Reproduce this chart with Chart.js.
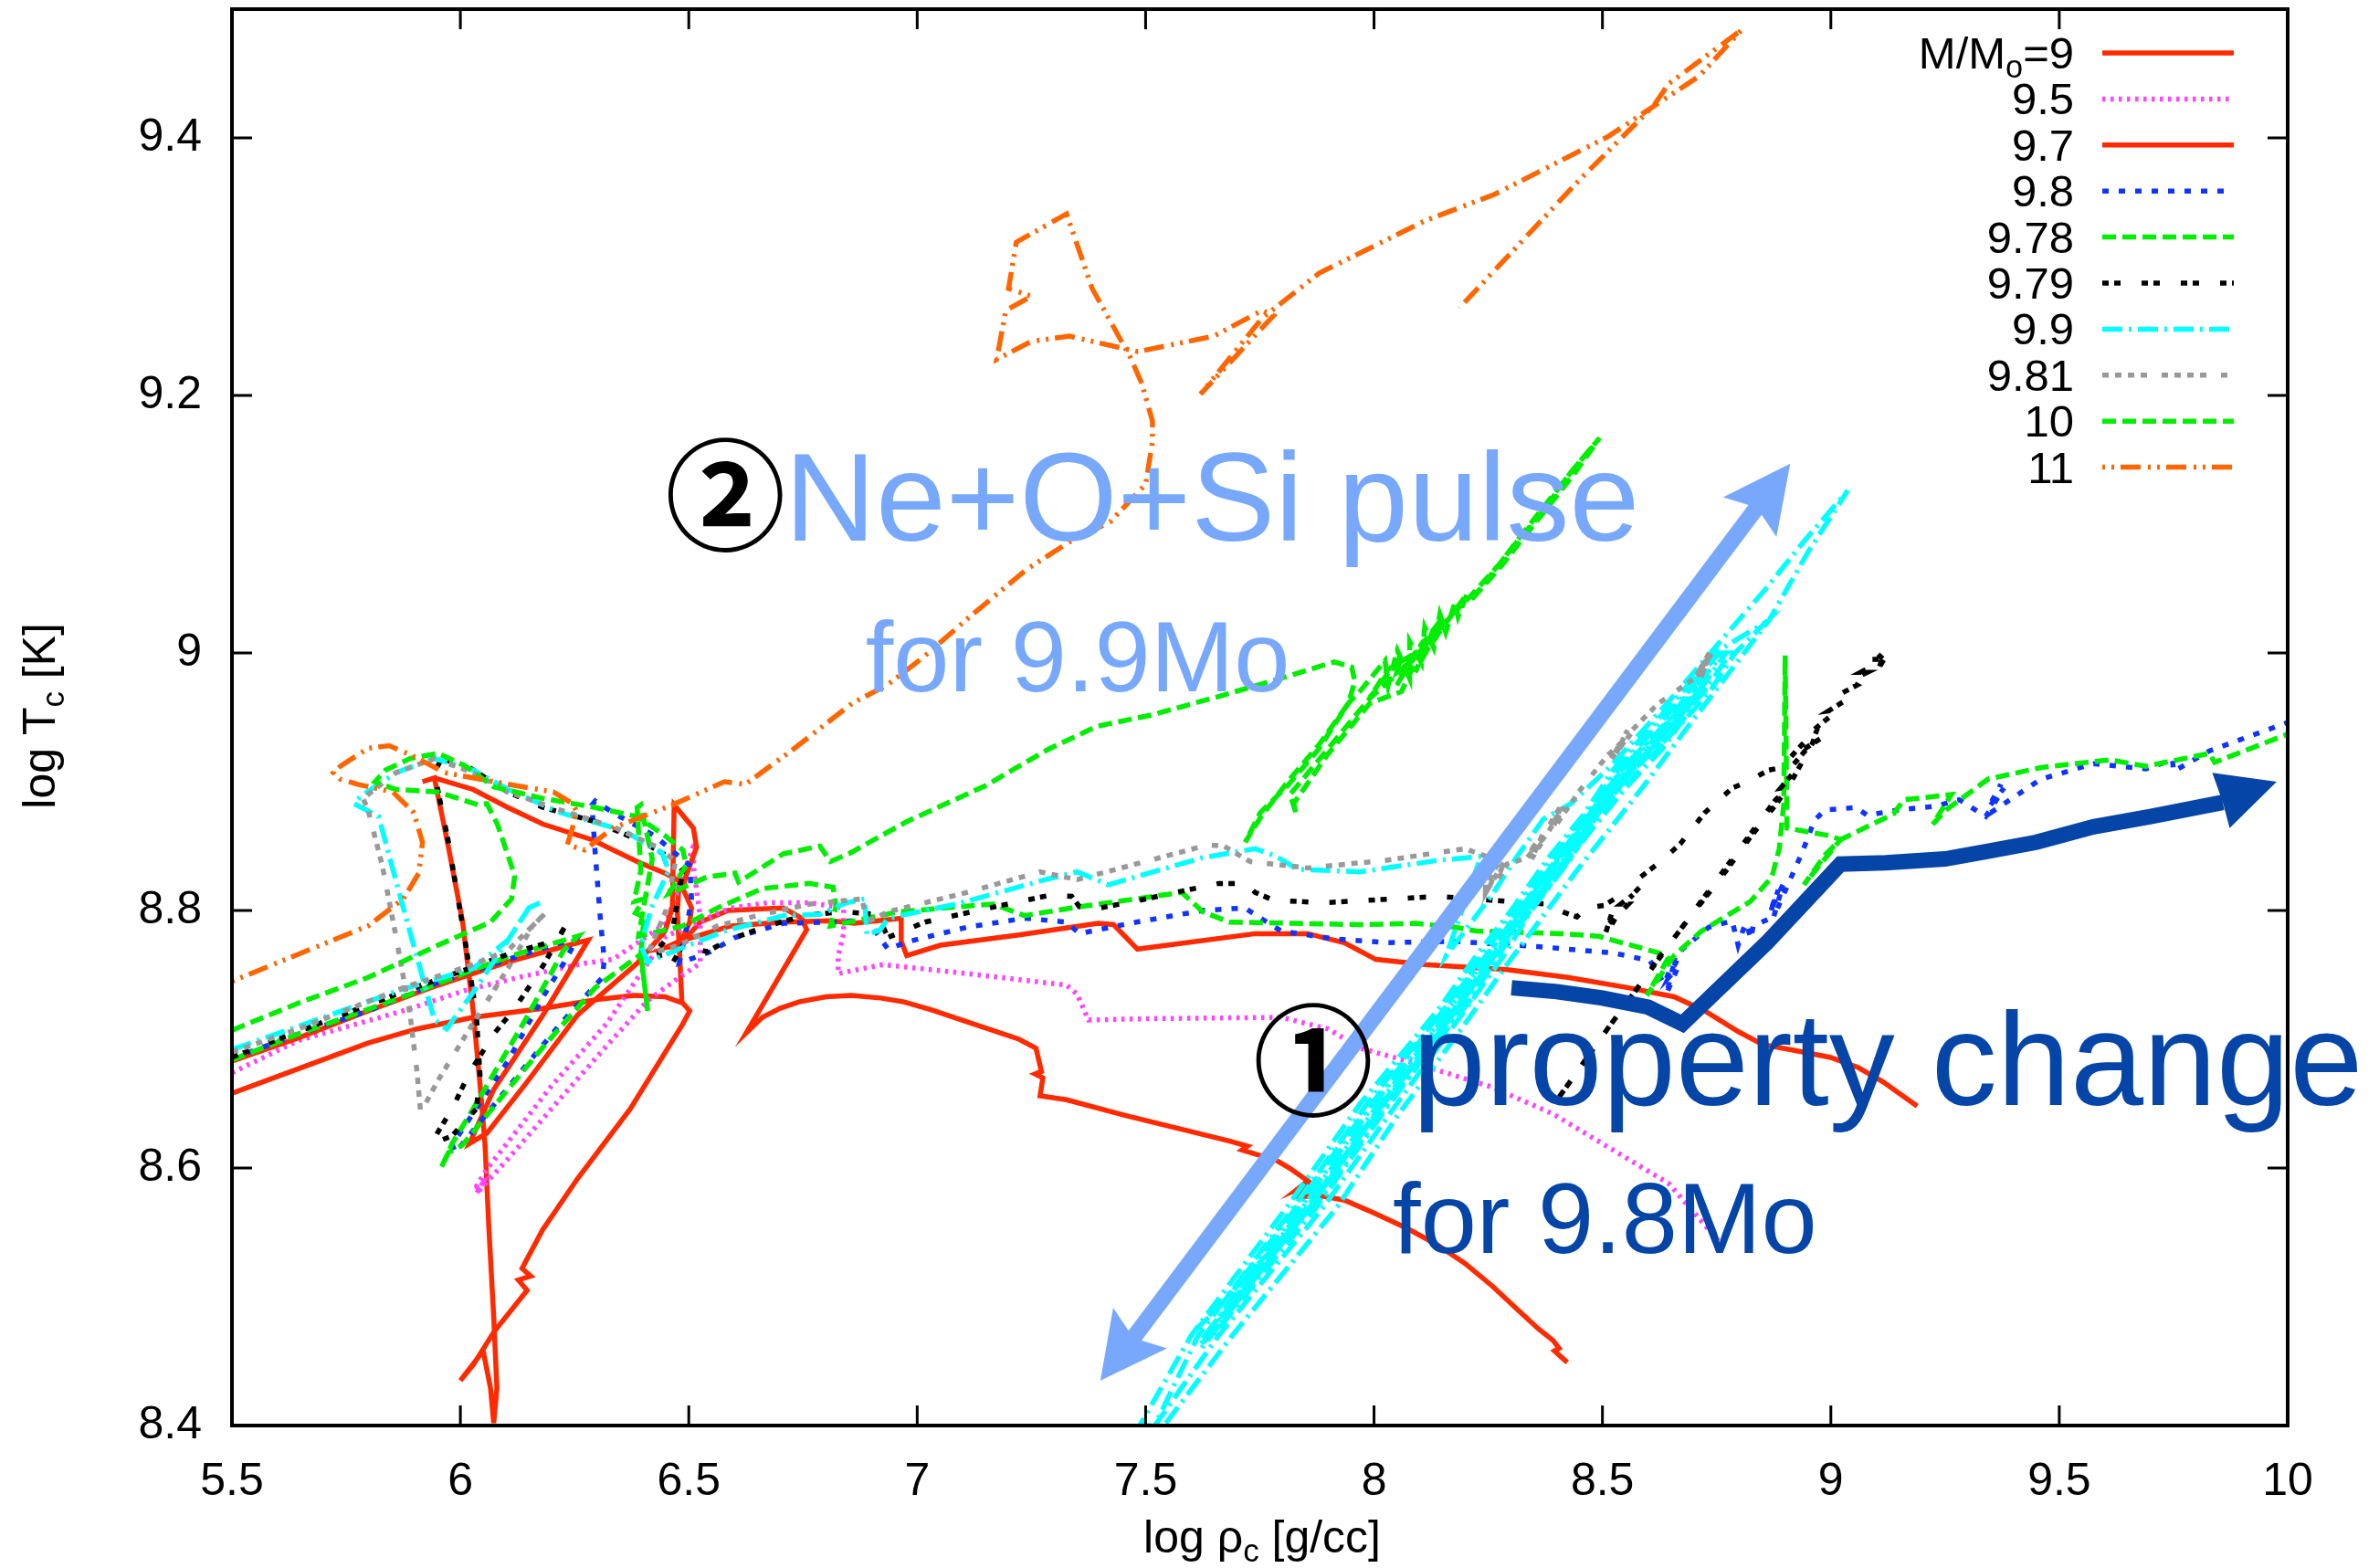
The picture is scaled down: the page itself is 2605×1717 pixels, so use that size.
<!DOCTYPE html>
<html>
<head>
<meta charset="utf-8">
<script src="https://cdn.jsdelivr.net/npm/chart.js@4/dist/chart.umd.min.js"></script>
<style>
body { margin: 0; background: #fff; }
canvas { display: block; }
</style>
</head>
<body>
<canvas id="tracks" width="2605" height="1717"></canvas>
<script>
const xTicks = [5.5, 6, 6.5, 7, 7.5, 8, 8.5, 9, 9.5, 10];
const xTickLabels = ['5.5', '6', '6.5', '7', '7.5', '8', '8.5', '9', '9.5', '10'];
const yTicks = [8.4, 8.6, 8.8, 9, 9.2, 9.4];
const yTickLabels = ['8.4', '8.6', '8.8', '9', '9.2', '9.4'];

const legendLabels = ['9', '9.5', '9.7', '9.8', '9.78', '9.79', '9.9', '9.81', '10', '11'];

// each track is [log rho_c, log T_c]
const m9 = [[5.5,8.658],[5.645,8.677],[5.798,8.697],[5.905,8.708],[6.028,8.717],[6.18,8.724],[6.303,8.731],[6.38,8.734],[6.448,8.733],[6.487,8.728],[6.502,8.722],[6.487,8.712],[6.372,8.646],[6.257,8.592],[6.18,8.552],[6.135,8.522],[6.154,8.516],[6.127,8.513],[6.146,8.505],[6.074,8.473],[6.028,8.447],[6,8.435],[6.05,8.458],[6.066,8.429],[6.073,8.402],[6.08,8.429],[6.073,8.484],[6.062,8.556],[6.054,8.618],[6.043,8.665],[6.028,8.722],[6.005,8.791],[5.974,8.849],[5.943,8.903],[5.917,8.9],[5.943,8.903],[6.028,8.894],[6.104,8.88],[6.181,8.867],[6.288,8.855],[6.387,8.838],[6.448,8.829],[6.479,8.823],[6.475,8.798],[6.479,8.773],[6.485,8.728],[6.479,8.773],[6.525,8.791],[6.586,8.8],[6.649,8.801],[6.707,8.802],[6.747,8.794],[6.758,8.785],[6.626,8.705],[6.661,8.717],[6.7,8.724],[6.741,8.729],[6.8,8.733],[6.856,8.734],[6.92,8.732],[6.971,8.729],[7.03,8.723],[7.097,8.715],[7.223,8.7],[7.26,8.693],[7.272,8.675],[7.258,8.673],[7.275,8.67],[7.269,8.656],[7.327,8.653],[7.453,8.641],[7.683,8.621],[7.723,8.617],[7.711,8.614],[7.786,8.606],[7.815,8.6],[7.855,8.59],[7.83,8.583],[7.85,8.586],[7.835,8.578],[7.89,8.578],[7.935,8.575],[8,8.565],[8.073,8.553],[8.14,8.54],[8.199,8.526],[8.26,8.508],[8.314,8.49],[8.36,8.475],[8.392,8.466],[8.405,8.46],[8.395,8.458],[8.423,8.449]];
const m95 = [[5.5,8.674],[5.645,8.699],[5.874,8.722],[6.012,8.738],[6.127,8.748],[6.272,8.759],[6.334,8.762],[6.45,8.79],[6.513,8.853],[6.51,8.835],[6.525,8.795],[6.525,8.759],[6.471,8.746],[6.41,8.73],[6.318,8.694],[6.219,8.654],[6.104,8.607],[6.035,8.58],[6.048,8.588],[6.03,8.583],[6.058,8.599],[6.2,8.664],[6.32,8.712],[6.45,8.78],[6.592,8.802],[6.672,8.806],[6.764,8.806],[6.839,8.802],[6.839,8.782],[6.827,8.765],[6.827,8.751],[6.925,8.758],[7.109,8.751],[7.327,8.742],[7.35,8.735],[7.375,8.715],[7.51,8.716],[7.797,8.717],[7.9,8.708],[7.97,8.693],[8.084,8.682],[8.257,8.663],[8.392,8.642],[8.645,8.588],[8.76,8.541]];
const m97 = [[5.5,8.683],[5.645,8.701],[5.798,8.722],[5.951,8.742],[6.104,8.76],[6.257,8.775],[6.28,8.777],[6.181,8.719],[6.073,8.661],[6.02,8.619],[6.058,8.627],[6.142,8.665],[6.257,8.719],[6.387,8.759],[6.448,8.784],[6.464,8.802],[6.468,8.882],[6.51,8.864],[6.517,8.849],[6.494,8.827],[6.487,8.817],[6.506,8.802],[6.502,8.791],[6.479,8.773],[6.448,8.771],[6.479,8.776],[6.592,8.788],[6.707,8.791],[6.81,8.792],[6.862,8.79],[6.965,8.794],[6.965,8.776],[6.977,8.765],[7.051,8.773],[7.223,8.781],[7.396,8.79],[7.43,8.789],[7.482,8.77],[7.74,8.782],[7.855,8.782],[7.935,8.775],[8.004,8.762],[8.111,8.758],[8.291,8.754],[8.424,8.748],[8.557,8.74],[8.657,8.733],[8.724,8.722],[8.797,8.706],[8.85,8.696],[8.91,8.692],[8.998,8.686],[9.06,8.678],[9.114,8.667],[9.189,8.648]];
const m98 = [[5.5,8.685],[5.645,8.704],[5.798,8.722],[5.951,8.744],[6.104,8.762],[6.257,8.779],[6.226,8.759],[6.181,8.733],[6.104,8.683],[5.982,8.618],[5.989,8.612],[6.142,8.679],[6.219,8.712],[6.311,8.748],[6.315,8.762],[6.307,8.791],[6.295,8.845],[6.288,8.882],[6.295,8.885],[6.334,8.876],[6.425,8.858],[6.502,8.835],[6.506,8.809],[6.494,8.784],[6.479,8.759],[6.548,8.768],[6.601,8.779],[6.707,8.79],[6.822,8.791],[6.89,8.793],[6.936,8.77],[6.982,8.776],[7.109,8.787],[7.235,8.794],[7.327,8.791],[7.355,8.782],[7.465,8.79],[7.625,8.8],[7.717,8.802],[7.752,8.794],[7.797,8.784],[7.912,8.778],[8.027,8.775],[8.178,8.776],[8.358,8.772],[8.524,8.767],[8.604,8.761],[8.635,8.743],[8.66,8.764],[8.64,8.735],[8.664,8.755],[8.645,8.748],[8.675,8.77],[8.733,8.787],[8.784,8.792],[8.797,8.773],[8.808,8.785],[8.815,8.79],[8.825,8.778],[8.83,8.788],[8.862,8.793],[8.885,8.816],[8.868,8.8],[8.895,8.82],[8.875,8.795],[8.911,8.824],[8.937,8.845],[8.964,8.87],[8.987,8.878],[9.056,8.88],[9.079,8.874],[9.148,8.878],[9.229,8.881],[9.281,8.886],[9.339,8.873],[9.379,8.895],[9.345,8.88],[9.372,8.898],[9.35,8.876],[9.46,8.902],[9.575,8.914],[9.69,8.91],[9.748,8.917],[9.75,8.908],[9.829,8.924],[10,8.946]];
const m978 = [[5.5,8.684],[5.645,8.704],[5.875,8.733],[6.104,8.764],[6.257,8.78],[6.226,8.769],[6.142,8.715],[6.028,8.646],[5.982,8.619],[5.959,8.601],[5.974,8.612],[6.005,8.618],[6.104,8.661],[6.181,8.694],[6.295,8.74],[6.395,8.766],[6.41,8.722],[6.395,8.766],[6.402,8.795],[6.383,8.798],[6.402,8.809],[6.38,8.807],[6.395,8.831],[6.387,8.88],[6.395,8.882],[6.42,8.84],[6.39,8.78],[6.487,8.788],[6.563,8.802],[6.661,8.817],[6.764,8.821],[6.816,8.818],[6.822,8.803],[6.81,8.788],[6.959,8.799],[7.166,8.805],[7.235,8.796],[7.338,8.802],[7.579,8.814],[7.625,8.799],[7.683,8.791],[7.97,8.789],[8.091,8.79],[8.178,8.787],[8.224,8.784],[8.411,8.782],[8.491,8.78],[8.624,8.767],[8.644,8.763],[8.597,8.734],[8.657,8.765],[8.717,8.784],[8.824,8.807],[8.871,8.826],[8.887,8.848],[8.897,8.883],[8.9,8.998],[8.904,8.864],[8.951,8.861],[8.998,8.858],[9.021,8.855],[8.941,8.82],[8.987,8.843],[9.021,8.855],[9.137,8.875],[9.16,8.886],[9.264,8.89],[9.223,8.867],[9.252,8.878],[9.344,8.902],[9.46,8.911],[9.61,8.917],[9.69,8.912],[9.829,8.922],[9.84,8.915],[10,8.937]];
const m979 = [[5.5,8.686],[5.645,8.706],[5.875,8.737],[6.02,8.755],[6.104,8.766],[6.211,8.777],[6.23,8.788],[6.181,8.757],[6.119,8.724],[6.073,8.704],[6.02,8.674],[5.982,8.646],[5.951,8.628],[5.94,8.619],[5.982,8.625],[6.035,8.646],[6.043,8.672],[6.035,8.719],[6.012,8.773],[5.974,8.853],[5.943,8.907],[5.959,8.918],[6.02,8.911],[6.104,8.892],[6.181,8.88],[6.295,8.869],[6.395,8.854],[6.464,8.84],[6.487,8.831],[6.464,8.784],[6.433,8.77],[6.441,8.757],[6.464,8.759],[6.487,8.773],[6.54,8.768],[6.586,8.777],[6.672,8.788],[6.753,8.796],[6.833,8.799],[6.913,8.797],[6.936,8.779],[7.017,8.791],[7.132,8.8],[7.212,8.806],[7.292,8.812],[7.338,8.811],[7.355,8.803],[7.401,8.802],[7.487,8.808],[7.579,8.815],[7.66,8.821],[7.717,8.821],[7.74,8.814],[7.78,8.808],[7.89,8.806],[8.142,8.811],[8.257,8.808],[8.376,8.805],[8.404,8.8],[8.444,8.795],[8.464,8.802],[8.504,8.804],[8.531,8.81],[8.504,8.779],[8.53,8.795],[8.515,8.79],[8.557,8.805],[8.54,8.805],[8.575,8.815],[8.56,8.81],[8.597,8.824],[8.58,8.825],[8.631,8.839],[8.671,8.852],[8.724,8.876],[8.784,8.895],[8.817,8.9],[8.864,8.909],[8.891,8.911],[8.927,8.925],[8.971,8.942],[8.96,8.93],[8.907,8.896],[8.877,8.881],[8.824,8.857],[8.771,8.831],[8.664,8.782],[8.637,8.77],[8.617,8.76],[8.571,8.737],[8.511,8.708],[8.393,8.649],[8.511,8.708],[8.664,8.782],[8.877,8.885],[8.907,8.896],[8.89,8.895],[8.925,8.91],[8.91,8.91],[8.958,8.93],[8.94,8.925],[8.984,8.935],[8.958,8.939],[9.017,8.956],[8.995,8.955],[9.04,8.965],[9.02,8.968],[9.057,8.975],[9.04,8.978],[9.08,8.985],[9.065,8.985],[9.097,8.991],[9.085,8.995],[9.115,8.995],[9.1,9],[9.124,9],[9.105,8.988],[9.12,9.003]];
const m99 = [[5.5,8.692],[5.645,8.71],[5.875,8.739],[6.028,8.755],[6.104,8.777],[6.15,8.802],[6.18,8.807],[6.15,8.802],[6.104,8.777],[6.035,8.74],[5.97,8.708],[5.943,8.715],[5.875,8.802],[5.821,8.873],[5.767,8.883],[5.783,8.889],[5.859,8.907],[5.943,8.918],[6.028,8.909],[6.104,8.894],[6.219,8.876],[6.357,8.862],[6.441,8.845],[6.456,8.831],[6.418,8.802],[6.395,8.773],[6.41,8.76],[6.471,8.769],[6.578,8.784],[6.707,8.796],[6.787,8.797],[6.845,8.806],[6.885,8.809],[6.89,8.781],[6.919,8.785],[6.936,8.794],[7.086,8.805],[7.281,8.824],[7.35,8.83],[7.419,8.82],[7.625,8.841],[7.74,8.848],[7.786,8.842],[7.832,8.832],[7.97,8.83],[8.142,8.839],[8.234,8.842],[8.158,8.765],[8.258,8.812],[8.311,8.841],[8.371,8.871],[8.431,8.883],[8.518,8.912],[8.637,8.959],[8.797,9.025],[8.858,9.05],[8.944,9.088],[9.037,9.126],[8.951,9.079],[8.864,9.025],[8.677,8.938],[8.591,8.897],[8.444,8.831],[8.291,8.758],[8.191,8.708],[8.05,8.64],[7.92,8.57],[7.69,8.47],[7.54,8.4],[7.487,8.4],[7.6,8.47],[7.81,8.57],[7.97,8.65],[8.145,8.725],[8.224,8.765],[8.3,8.8],[8.38,8.84],[8.46,8.875],[8.525,8.91],[8.6,8.94],[8.675,8.97],[8.745,9],[8.858,9.024],[8.79,9],[8.735,8.97],[8.66,8.94],[8.57,8.91],[8.49,8.875],[8.43,8.84],[8.344,8.8],[8.284,8.765],[8.204,8.725],[8.05,8.65],[7.89,8.57],[7.66,8.47],[7.52,8.4],[7.615,8.47],[7.825,8.57],[7.985,8.65],[8.157,8.725],[8.236,8.765],[8.309,8.8],[8.39,8.84],[8.466,8.875],[8.534,8.91],[8.612,8.94],[8.687,8.97],[8.754,9],[8.78,9],[8.723,8.97],[8.648,8.94],[8.561,8.91],[8.484,8.875],[8.42,8.84],[8.335,8.8],[8.272,8.765],[8.192,8.725],[8.034,8.65],[7.875,8.57],[7.648,8.47],[7.63,8.47],[7.84,8.57],[8,8.65],[8.169,8.725],[8.248,8.765],[8.318,8.8],[8.4,8.84],[8.472,8.875],[8.543,8.91],[8.624,8.94],[8.699,8.97],[8.763,9],[8.77,9],[8.711,8.97],[8.636,8.94],[8.552,8.91],[8.478,8.875],[8.41,8.84],[8.326,8.8],[8.26,8.765],[8.18,8.725],[8.018,8.65],[7.86,8.57],[7.635,8.47],[7.622,8.46],[7.85,8.565],[8.01,8.645],[8.175,8.72],[8.254,8.76],[8.322,8.795],[8.405,8.835],[8.475,8.87],[8.548,8.905],[8.63,8.935],[8.705,8.965],[8.69,8.965],[8.618,8.935],[8.535,8.905],[8.468,8.87],[8.392,8.835],[8.312,8.795],[8.24,8.76],[8.16,8.72],[8,8.645],[7.835,8.565],[7.62,8.462],[7.64,8.475],[7.865,8.575],[8.028,8.655],[8.19,8.73],[8.27,8.77],[8.332,8.805],[8.415,8.845],[8.482,8.88],[8.555,8.915],[8.64,8.945],[8.72,8.975],[8.655,8.945],[8.58,8.915],[8.5,8.88],[8.35,8.805],[8.28,8.77],[8.21,8.73],[8.04,8.655],[7.88,8.575],[7.61,8.475],[7.657,8.49],[7.8,8.555],[7.93,8.62],[8.06,8.68],[8.2,8.745],[8.29,8.785],[8.37,8.825],[8.45,8.865],[8.53,8.9],[8.61,8.93],[8.7,8.975],[8.71,8.965],[8.63,8.925],[8.55,8.895],[8.47,8.86],[8.385,8.82],[8.3,8.78],[8.215,8.74],[8.07,8.67],[7.94,8.61],[7.81,8.545],[7.67,8.485],[7.68,8.485],[7.82,8.55],[7.95,8.615],[8.08,8.675],[8.225,8.745],[8.31,8.785],[8.395,8.825],[8.48,8.865],[8.56,8.9],[8.645,8.935],[8.73,8.975]];
const m981 = [[5.5,8.69],[5.645,8.708],[5.875,8.74],[6.02,8.757],[6.104,8.769],[6.192,8.8],[6.158,8.788],[6.104,8.755],[6.02,8.708],[5.951,8.668],[5.913,8.643],[5.905,8.675],[5.89,8.719],[5.859,8.78],[5.829,8.835],[5.798,8.878],[5.787,8.887],[5.859,8.907],[5.943,8.918],[6.028,8.907],[6.104,8.892],[6.219,8.878],[6.334,8.865],[6.433,8.849],[6.471,8.838],[6.45,8.8],[6.41,8.766],[6.479,8.773],[6.563,8.788],[6.661,8.797],[6.764,8.805],[6.879,8.809],[6.89,8.791],[6.936,8.799],[7.109,8.814],[7.269,8.83],[7.35,8.824],[7.51,8.839],[7.637,8.851],[7.671,8.85],[7.729,8.838],[7.855,8.833],[8.027,8.839],[8.199,8.848],[8.245,8.842],[8.244,8.817],[8.27,8.836],[8.255,8.82],[8.285,8.838],[8.268,8.822],[8.291,8.836],[8.335,8.841],[8.378,8.859],[8.34,8.845],[8.37,8.86],[8.345,8.84],[8.39,8.866],[8.418,8.88],[8.38,8.864],[8.41,8.882],[8.39,8.862],[8.45,8.893],[8.51,8.92],[8.564,8.938],[8.52,8.918],[8.555,8.94],[8.53,8.922],[8.565,8.94],[8.62,8.96],[8.66,8.97],[8.7,8.98],[8.744,9.002],[8.71,8.985],[8.74,9.004],[8.715,8.98],[8.735,9],[8.705,8.98],[8.744,9.002]];
const m10 = [[5.5,8.707],[5.645,8.728],[5.798,8.748],[5.951,8.773],[6.066,8.791],[6.112,8.809],[6.119,8.827],[6.081,8.867],[6.058,8.883],[6.04,8.882],[5.951,8.892],[5.859,8.894],[5.813,8.9],[5.836,8.909],[5.89,8.918],[5.951,8.922],[6.012,8.912],[6.073,8.896],[6.181,8.887],[6.295,8.88],[6.387,8.873],[6.448,8.858],[6.487,8.847],[6.494,8.835],[6.456,8.813],[6.54,8.826],[6.601,8.829],[6.609,8.822],[6.707,8.844],[6.787,8.85],[6.81,8.838],[6.85,8.844],[6.977,8.869],[7.15,8.897],[7.286,8.925],[7.393,8.943],[7.515,8.952],[7.668,8.967],[7.821,8.983],[7.913,8.993],[7.951,8.989],[7.958,8.978],[7.944,8.961],[7.878,8.928],[7.811,8.9],[7.751,8.872],[7.718,8.853],[7.751,8.876],[7.811,8.897],[7.878,8.925],[7.944,8.961],[7.971,8.971],[8.024,8.994],[8.031,8.975],[8.051,9.002],[8.078,8.98],[8.078,9.009],[8.104,8.992],[8.111,9.02],[8.131,9.004],[8.144,9.03],[8.157,9.016],[8.177,9.039],[8.184,9.028],[8.204,9.046],[8.171,9.03],[8.117,9.003],[8.05,8.985],[8.06,8.998],[7.99,8.965],[8.03,8.987],[8.09,9],[8.05,8.975],[8.11,9.01],[8.07,8.99],[8.13,9.018],[8.09,8.985],[8.15,9.025],[8.1,9],[8.06,8.97],[7.991,8.961],[7.898,8.921],[7.824,8.883],[7.83,8.875],[7.816,8.89],[7.898,8.925],[7.991,8.965],[8.078,8.992],[8.171,9.03],[8.211,9.044],[8.277,9.07],[8.317,9.089],[8.384,9.119],[8.437,9.143],[8.494,9.167],[8.44,9.14],[8.38,9.113],[8.317,9.085],[8.28,9.068],[8.21,9.04],[8.31,9.085],[8.37,9.11],[8.43,9.14],[8.494,9.167]];
const m11 = [[5.5,8.745],[5.645,8.766],[5.798,8.788],[5.875,8.809],[5.909,8.829],[5.917,8.853],[5.898,8.876],[5.852,8.892],[5.775,8.898],[5.737,8.902],[5.722,8.907],[5.737,8.912],[5.798,8.926],[5.844,8.928],[5.89,8.921],[5.966,8.907],[6.104,8.898],[6.204,8.892],[6.246,8.883],[6.253,8.878],[6.246,8.865],[6.234,8.851],[6.272,8.847],[6.334,8.864],[6.464,8.882],[6.578,8.9],[6.624,8.898],[6.728,8.925],[6.858,8.961],[6.934,8.975],[7.011,8.996],[7.118,9.029],[7.24,9.065],[7.332,9.086],[7.423,9.102],[7.5,9.131],[7.515,9.164],[7.515,9.18],[7.492,9.209],[7.466,9.23],[7.383,9.283],[7.327,9.341],[7.217,9.319],[7.2,9.283],[7.25,9.277],[7.194,9.266],[7.174,9.228],[7.25,9.242],[7.333,9.246],[7.483,9.234],[7.649,9.246],[7.755,9.266],[7.78,9.262],[7.62,9.201],[7.755,9.26],[7.88,9.295],[8.114,9.336],[8.263,9.356],[8.512,9.401],[8.712,9.448],[8.805,9.484],[8.645,9.442],[8.612,9.425],[8.446,9.366],[8.187,9.268]];

const tracks = [m9, m95, m97, m98, m978, m979, m99, m981, m10, m11];
const trackColors = ['#ff2a00', '#ff44ff', '#ff2a00', '#1034ff', '#00ee00', '#000000', '#00ffff', '#999999', '#00ee00', '#ff6600'];
const trackDashes = [[], [3.5, 5.5], [], [7, 11], [15, 7], [7, 6, 7, 23], [22, 7, 3, 7], [7, 7, 7, 7, 7, 7, 7, 16], [15, 7], [3, 7, 3, 7, 22, 8]];

// overlay arrows, in data coordinates too
const lightShaft = [[7.473,8.468],[8.838,9.113]];
const lightHeadLow = [[7.401,8.435],[7.429,8.4915],[7.473,8.468],[7.547,8.46]];
const lightHeadHigh = [[8.911,9.147],[8.764,9.121],[8.838,9.113],[8.881,9.09]];
const darkShaft = [[8.301,8.74],[8.4,8.737],[8.5,8.732],[8.6,8.725],[8.675,8.712],[8.86,8.775],[9.021,8.836],[9.12,8.837],[9.25,8.84],[9.344,8.846],[9.45,8.853],[9.575,8.865],[9.7,8.873],[9.858,8.884]];
const darkHead = [[9.976,8.9],[9.835,8.907],[9.858,8.884],[9.873,8.864]];

const lightBlue = '#78a8fc';
const darkBlue = '#0645a8';
const notes = [
    { text: 'Ne+O+Si pulse', x: 6.71, y: 9.087, size: 138, color: lightBlue },
    { text: 'for 9.9Mo', x: 6.887, y: 8.97, size: 110, color: lightBlue },
    { text: 'property change', x: 8.084, y: 8.649, size: 144, color: darkBlue },
    { text: 'for 9.8Mo', x: 8.041, y: 8.534, size: 110, color: darkBlue }
];
const circled = [
    { text: '②', x: 6.58, y: 9.123 },
    { text: '①', x: 7.867, y: 8.684 }
];

const FONT = '"Liberation Sans", Arial, sans-serif';

function tracePath(ctx, xs, ys, pts) {
    ctx.beginPath();
    pts.forEach((p, i) => {
        if (i == 0) ctx.moveTo(xs.getPixelForValue(p[0]), ys.getPixelForValue(p[1]));
        else ctx.lineTo(xs.getPixelForValue(p[0]), ys.getPixelForValue(p[1]));
    });
}

function filled(ctx, xs, ys, pts, color) {
    ctx.fillStyle = color;
    tracePath(ctx, xs, ys, pts);
    ctx.closePath();
    ctx.fill();
}

function stroked(ctx, xs, ys, pts, color, width) {
    ctx.strokeStyle = color;
    ctx.lineWidth = width;
    ctx.lineJoin = 'miter';
    ctx.setLineDash([]);
    tracePath(ctx, xs, ys, pts);
    ctx.stroke();
}

// text with a small lowered piece in the middle, ends at x
function subText(ctx, before, sub, after, x, y, size) {
    ctx.font = size + 'px ' + FONT;
    const w1 = ctx.measureText(before).width;
    const w3 = ctx.measureText(after).width;
    ctx.font = (size * 0.7) + 'px ' + FONT;
    const w2 = ctx.measureText(sub).width;
    const left = x - (w1 + w2 + w3);
    ctx.textAlign = 'left';
    ctx.textBaseline = 'alphabetic';
    ctx.fillText(sub, left + w1, y + size * 0.2);
    ctx.font = size + 'px ' + FONT;
    ctx.fillText(before, left, y);
    ctx.fillText(after, left + w1 + w2, y);
}

const framePlugin = {
    id: 'frame',
    afterDatasetsDraw(chart) {
        const ctx = chart.ctx;
        const area = chart.chartArea;
        const xs = chart.scales.x;
        const ys = chart.scales.y;
        ctx.save();
        ctx.setLineDash([]);
        ctx.strokeStyle = '#000';

        // gnuplot style ticks, inward on all four sides
        ctx.lineWidth = 3;
        ctx.beginPath();
        xTicks.forEach(v => {
            const px = xs.getPixelForValue(v);
            ctx.moveTo(px, area.bottom);
            ctx.lineTo(px, area.bottom - 22);
            ctx.moveTo(px, area.top);
            ctx.lineTo(px, area.top + 22);
        });
        yTicks.forEach(v => {
            const py = ys.getPixelForValue(v);
            ctx.moveTo(area.left, py);
            ctx.lineTo(area.left + 22, py);
            ctx.moveTo(area.right, py);
            ctx.lineTo(area.right - 22, py);
        });
        ctx.stroke();
        ctx.lineWidth = 4;
        ctx.strokeRect(area.left, area.top, area.right - area.left, area.bottom - area.top);

        // legend
        ctx.fillStyle = '#000';
        legendLabels.forEach((label, i) => {
            const rowY = 58 + i * 50.4;
            if (i == 0) {
                subText(ctx, 'M/M', 'o', '=' + label, 2271, rowY + 17, 49);
            } else {
                subText(ctx, label, '', '', 2271, rowY + 17, 49);
            }
            ctx.strokeStyle = trackColors[i];
            ctx.lineWidth = 5.5;
            ctx.setLineDash(trackDashes[i]);
            ctx.beginPath();
            ctx.moveTo(2302, rowY);
            ctx.lineTo(2446, rowY);
            ctx.stroke();
        });
        ctx.setLineDash([]);

        // axis titles
        ctx.fillStyle = '#000';
        ctx.save();
        subText(ctx, 'log ρ', 'c', ' [g/cc]', 1512, 1700, 50);
        ctx.translate(60, 0);
        ctx.rotate(-Math.PI / 2);
        subText(ctx, 'log T', 'c', ' [K]', -682, 0, 50);
        ctx.restore();

        // arrows and big notes sit on top of the tracks
        stroked(ctx, xs, ys, lightShaft, lightBlue, 18);
        filled(ctx, xs, ys, lightHeadLow, lightBlue);
        filled(ctx, xs, ys, lightHeadHigh, lightBlue);
        stroked(ctx, xs, ys, darkShaft, darkBlue, 17);
        filled(ctx, xs, ys, darkHead, darkBlue);

        ctx.textAlign = 'left';
        ctx.textBaseline = 'alphabetic';
        notes.forEach(n => {
            ctx.font = n.size + 'px ' + FONT;
            ctx.fillStyle = n.color;
            ctx.fillText(n.text, xs.getPixelForValue(n.x), ys.getPixelForValue(n.y));
        });
        ctx.fillStyle = '#000';
        ctx.font = 'bold 132px "Noto Sans CJK JP"';
        ctx.textAlign = 'center';
        ctx.textBaseline = 'middle';
        circled.forEach(n => {
            ctx.fillText(n.text, xs.getPixelForValue(n.x), ys.getPixelForValue(n.y));
        });
        ctx.restore();
    }
};

new Chart(document.getElementById('tracks'), {
    type: 'scatter',
    data: {
        datasets: tracks.map((track, i) => ({
            label: legendLabels[i],
            data: track,
            showLine: true,
            pointRadius: 0,
            borderColor: trackColors[i],
            borderWidth: 5.5,
            borderDash: trackDashes[i],
            tension: 0,
            order: tracks.length - i
        }))
    },
    options: {
        responsive: false,
        animation: false,
        layout: { padding: { top: 10, right: 100, left: 0, bottom: 0 } },
        plugins: { legend: { display: false }, tooltip: { enabled: false } },
        scales: {
            x: {
                type: 'linear',
                min: 5.5,
                max: 10,
                grid: { display: false },
                border: { display: false },
                afterBuildTicks: s => { s.ticks = xTicks.map(v => ({ value: v })); },
                afterFit: s => { s.height = 156; s.paddingLeft = 0; s.paddingRight = 0; },
                ticks: {
                    color: '#000',
                    font: { family: FONT, size: 50 },
                    padding: 24,
                    maxRotation: 0,
                    autoSkip: false,
                    callback: v => xTickLabels[xTicks.indexOf(v)]
                }
            },
            y: {
                type: 'linear',
                min: 8.4,
                max: 9.5,
                grid: { display: false },
                border: { display: false },
                afterBuildTicks: s => { s.ticks = yTicks.map(v => ({ value: v })); },
                afterFit: s => { s.width = 254; s.paddingTop = 0; s.paddingBottom = 0; },
                ticks: {
                    color: '#000',
                    font: { family: FONT, size: 50 },
                    padding: 25,
                    autoSkip: false,
                    callback: v => yTickLabels[yTicks.indexOf(v)]
                }
            }
        }
    },
    plugins: [framePlugin]
});
</script>
</body>
</html>
